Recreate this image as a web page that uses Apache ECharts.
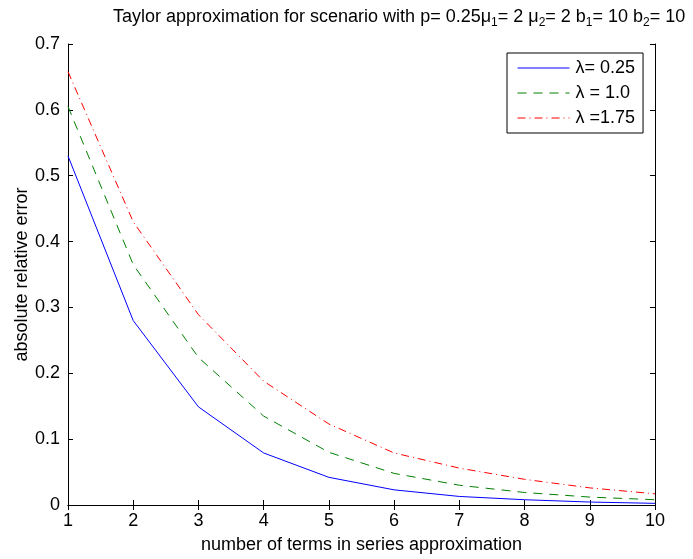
<!DOCTYPE html>
<html>
<head>
<meta charset="utf-8">
<script src="https://cdn.jsdelivr.net/npm/echarts@6/dist/echarts.min.js"></script>
<style>
  html, body { margin: 0; padding: 0; background: #fff; }
  #chart { width: 693px; height: 559px; }
</style>
</head>
<body>
<div id="chart"></div>
<script>
// terms in the series, x axis
const terms = [1, 2, 3, 4, 5, 6, 7, 8, 9, 10];
const yTicks = [0, 0.1, 0.2, 0.3, 0.4, 0.5, 0.6, 0.7];

// absolute relative error
const lam025 = [0.530, 0.280, 0.149, 0.079, 0.042, 0.023, 0.013, 0.008, 0.0045, 0.0025];
const lam100 = [0.605, 0.365, 0.224, 0.135, 0.080, 0.048, 0.030, 0.019, 0.012, 0.008];
const lam175 = [0.658, 0.430, 0.289, 0.188, 0.123, 0.079, 0.056, 0.039, 0.026, 0.017];

const seriesNames = ['λ= 0.25', 'λ = 1.0', 'λ =1.75'];

const font = '"Liberation Sans", Arial, sans-serif';
const chart = echarts.init(document.getElementById('chart'), null, { renderer: 'canvas' });

const pairs = (ys) => terms.map((x, i) => [x, ys[i]]);

const tickOpts = { show: true, inside: true, length: 5, lineStyle: { color: '#000', width: 1 } };

const option = {
  backgroundColor: '#fff',
  animation: false,
  title: {
    text: '{n|Taylor approximation for scenario with p= 0.25μ}{s|1}{n|= 2 μ}{s|2}{n|= 2 b}{s|1}{n|= 10 b}{s|2}{n|= 10}',
    left: 113,
    top: 8,
    padding: 0,
    textStyle: {
      fontWeight: 'normal',
      rich: {
        n: { fontFamily: font, fontSize: 18, fontWeight: 'normal', color: '#000', lineHeight: 18, verticalAlign: 'top' },
        s: { fontFamily: font, fontSize: 12, fontWeight: 'normal', color: '#000', lineHeight: 30, verticalAlign: 'middle' }
      }
    }
  },
  grid: { left: 68, right: 38, top: 44, bottom: 54, containLabel: false },
  legend: {
    orient: 'vertical',
    left: 507,
    top: 53,
    padding: [6, 8, 6, 10],
    itemWidth: 52,
    itemHeight: 17,
    itemGap: 7,
    backgroundColor: '#fff',
    borderColor: '#000',
    borderWidth: 1,
    borderRadius: 0,
    itemStyle: { opacity: 0, color: 'rgba(0,0,0,0)', borderWidth: 0 },
    lineStyle: { width: 1 },
    textStyle: { fontFamily: font, fontSize: 18, color: '#000', padding: [0, 0, 0, 1] },
    data: seriesNames
  },
  xAxis: [{
    type: 'value',
    min: 1, max: 10, interval: 1,
    name: 'number of terms in series approximation',
    nameLocation: 'middle',
    nameGap: 31,
    nameTextStyle: { fontFamily: font, fontSize: 18, color: '#000' },
    axisLine: { lineStyle: { color: '#000', width: 1 } },
    axisTick: tickOpts,
    axisLabel: { fontFamily: font, fontSize: 18, color: '#000', margin: 7 },
    splitLine: { show: false }
  }, {
    type: 'value',
    position: 'top',
    min: 1, max: 10, interval: 1,
    axisLine: { show: true, lineStyle: { color: '#000', width: 1 } },
    axisTick: tickOpts,
    axisLabel: { show: false },
    splitLine: { show: false }
  }],
  yAxis: [{
    type: 'value',
    min: yTicks[0], max: yTicks[yTicks.length - 1], interval: 0.1,
    name: 'absolute relative error',
    nameLocation: 'middle',
    nameGap: 37,
    nameMoveOverlap: false,
    nameTextStyle: { fontFamily: font, fontSize: 18, color: '#000' },
    axisLine: { show: true, lineStyle: { color: '#000', width: 1 } },
    axisTick: tickOpts,
    axisLabel: { fontFamily: font, fontSize: 18, color: '#000', margin: 8 },
    splitLine: { show: false }
  }, {
    type: 'value',
    position: 'right',
    min: yTicks[0], max: yTicks[yTicks.length - 1], interval: 0.1,
    axisLine: { show: true, lineStyle: { color: '#000', width: 1 } },
    axisTick: tickOpts,
    axisLabel: { show: false },
    splitLine: { show: false }
  }],
  series: [{
    name: seriesNames[0],
    type: 'line',
    data: pairs(lam025),
    symbol: 'none',
    lineStyle: { color: '#0000ff', width: 1, type: 'solid' },
    itemStyle: { color: '#0000ff' }
  }, {
    name: seriesNames[1],
    type: 'line',
    data: pairs(lam100),
    symbol: 'none',
    lineStyle: { color: '#008000', width: 1, type: [9, 7] },
    itemStyle: { color: '#008000' }
  }, {
    name: seriesNames[2],
    type: 'line',
    data: pairs(lam175),
    symbol: 'none',
    lineStyle: { color: '#ff0000', width: 1, type: [8, 4, 1, 4] },
    itemStyle: { color: '#ff0000' }
  }]
};

chart.setOption(option);
</script>
</body>
</html>
